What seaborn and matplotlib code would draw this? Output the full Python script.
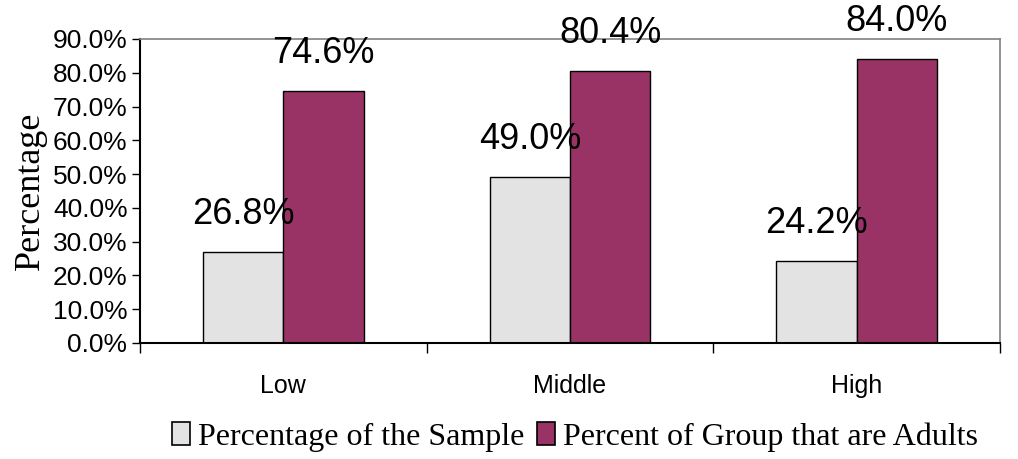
import matplotlib
matplotlib.use("Agg")
import matplotlib.pyplot as plt
import seaborn as sns
import pandas as pd
from matplotlib.ticker import FuncFormatter, FixedLocator, NullFormatter
from matplotlib.patches import Patch

categories = ["Low", "Middle", "High"]
series_names = ["Percentage of the Sample", "Percent of Group that are Adults"]
sample_pct = [26.8, 49.0, 24.2]
adult_pct = [74.6, 80.4, 84.0]
colors = ["#E3E3E3", "#993366"]

df = pd.DataFrame({
    "Group": categories * 2,
    "Series": [series_names[0]] * 3 + [series_names[1]] * 3,
    "Value": sample_pct + adult_pct,
})

sns.set_style("white")
plt.rcParams["font.family"] = ["Liberation Sans", "DejaVu Sans"]
plt.rcParams["text.color"] = "black"
plt.rcParams["xtick.color"] = "black"
plt.rcParams["ytick.color"] = "black"
plt.rcParams["axes.labelcolor"] = "black"

fig = plt.figure(figsize=(10.18, 4.59), dpi=100)
ax = fig.add_axes([140 / 1018, 1 - 343 / 459, 860 / 1018, 304 / 459])

sns.barplot(data=df, x="Group", y="Value", hue="Series", order=categories,
            hue_order=series_names, palette=colors, width=0.56,
            edgecolor="black", linewidth=1.0, saturation=1, ax=ax, legend=False)

ax.set_ylim(0, 90)
ax.set_xlim(-0.5, 2.5)
ax.set_yticks(range(0, 91, 10))
ax.yaxis.set_major_formatter(FuncFormatter(lambda v, p: f"{v:.1f}%"))
ax.tick_params(axis="y", labelsize=19, length=6, width=1, direction="out",
               left=True, color="black", pad=3, labelcolor="black")
ax.tick_params(axis="x", which="major", length=0, labelsize=18, pad=22, labelcolor="black")
ax.xaxis.set_minor_locator(FixedLocator([-0.5, 0.5, 1.5, 2.5]))
ax.xaxis.set_minor_formatter(NullFormatter())
ax.tick_params(axis="x", which="minor", length=7, width=1, direction="out",
               bottom=True, color="black")
ax.set_xlabel("")
ax.set_ylabel("Percentage", fontsize=26, family=["Liberation Serif"], labelpad=4,
              color="black")

for s in ["left", "bottom"]:
    ax.spines[s].set_color("black")
    ax.spines[s].set_linewidth(1.5)
for s in ["top", "right"]:
    ax.spines[s].set_color("#808080")
    ax.spines[s].set_linewidth(1.2)

for cont in ax.containers:
    for bar in cont:
        h = bar.get_height()
        ax.annotate(f"{h:.1f}%", (bar.get_x() + bar.get_width() / 2, h),
                    xytext=(0, 20), textcoords="offset pixels",
                    ha="center", va="bottom", fontsize=26, color="black",
                    clip_on=False)

handles = [Patch(facecolor=c, edgecolor="black", linewidth=1.2) for c in colors]
fig.legend(handles, series_names, loc="center", bbox_to_anchor=(575 / 1018, 1 - 437 / 459),
           ncol=2, frameon=False, handletextpad=0.25, columnspacing=0.4,
           handlelength=0.55, handleheight=0.75, labelcolor="black",
           prop={"family": "Liberation Serif", "size": 23})

fig.savefig("out.png", dpi=100)
